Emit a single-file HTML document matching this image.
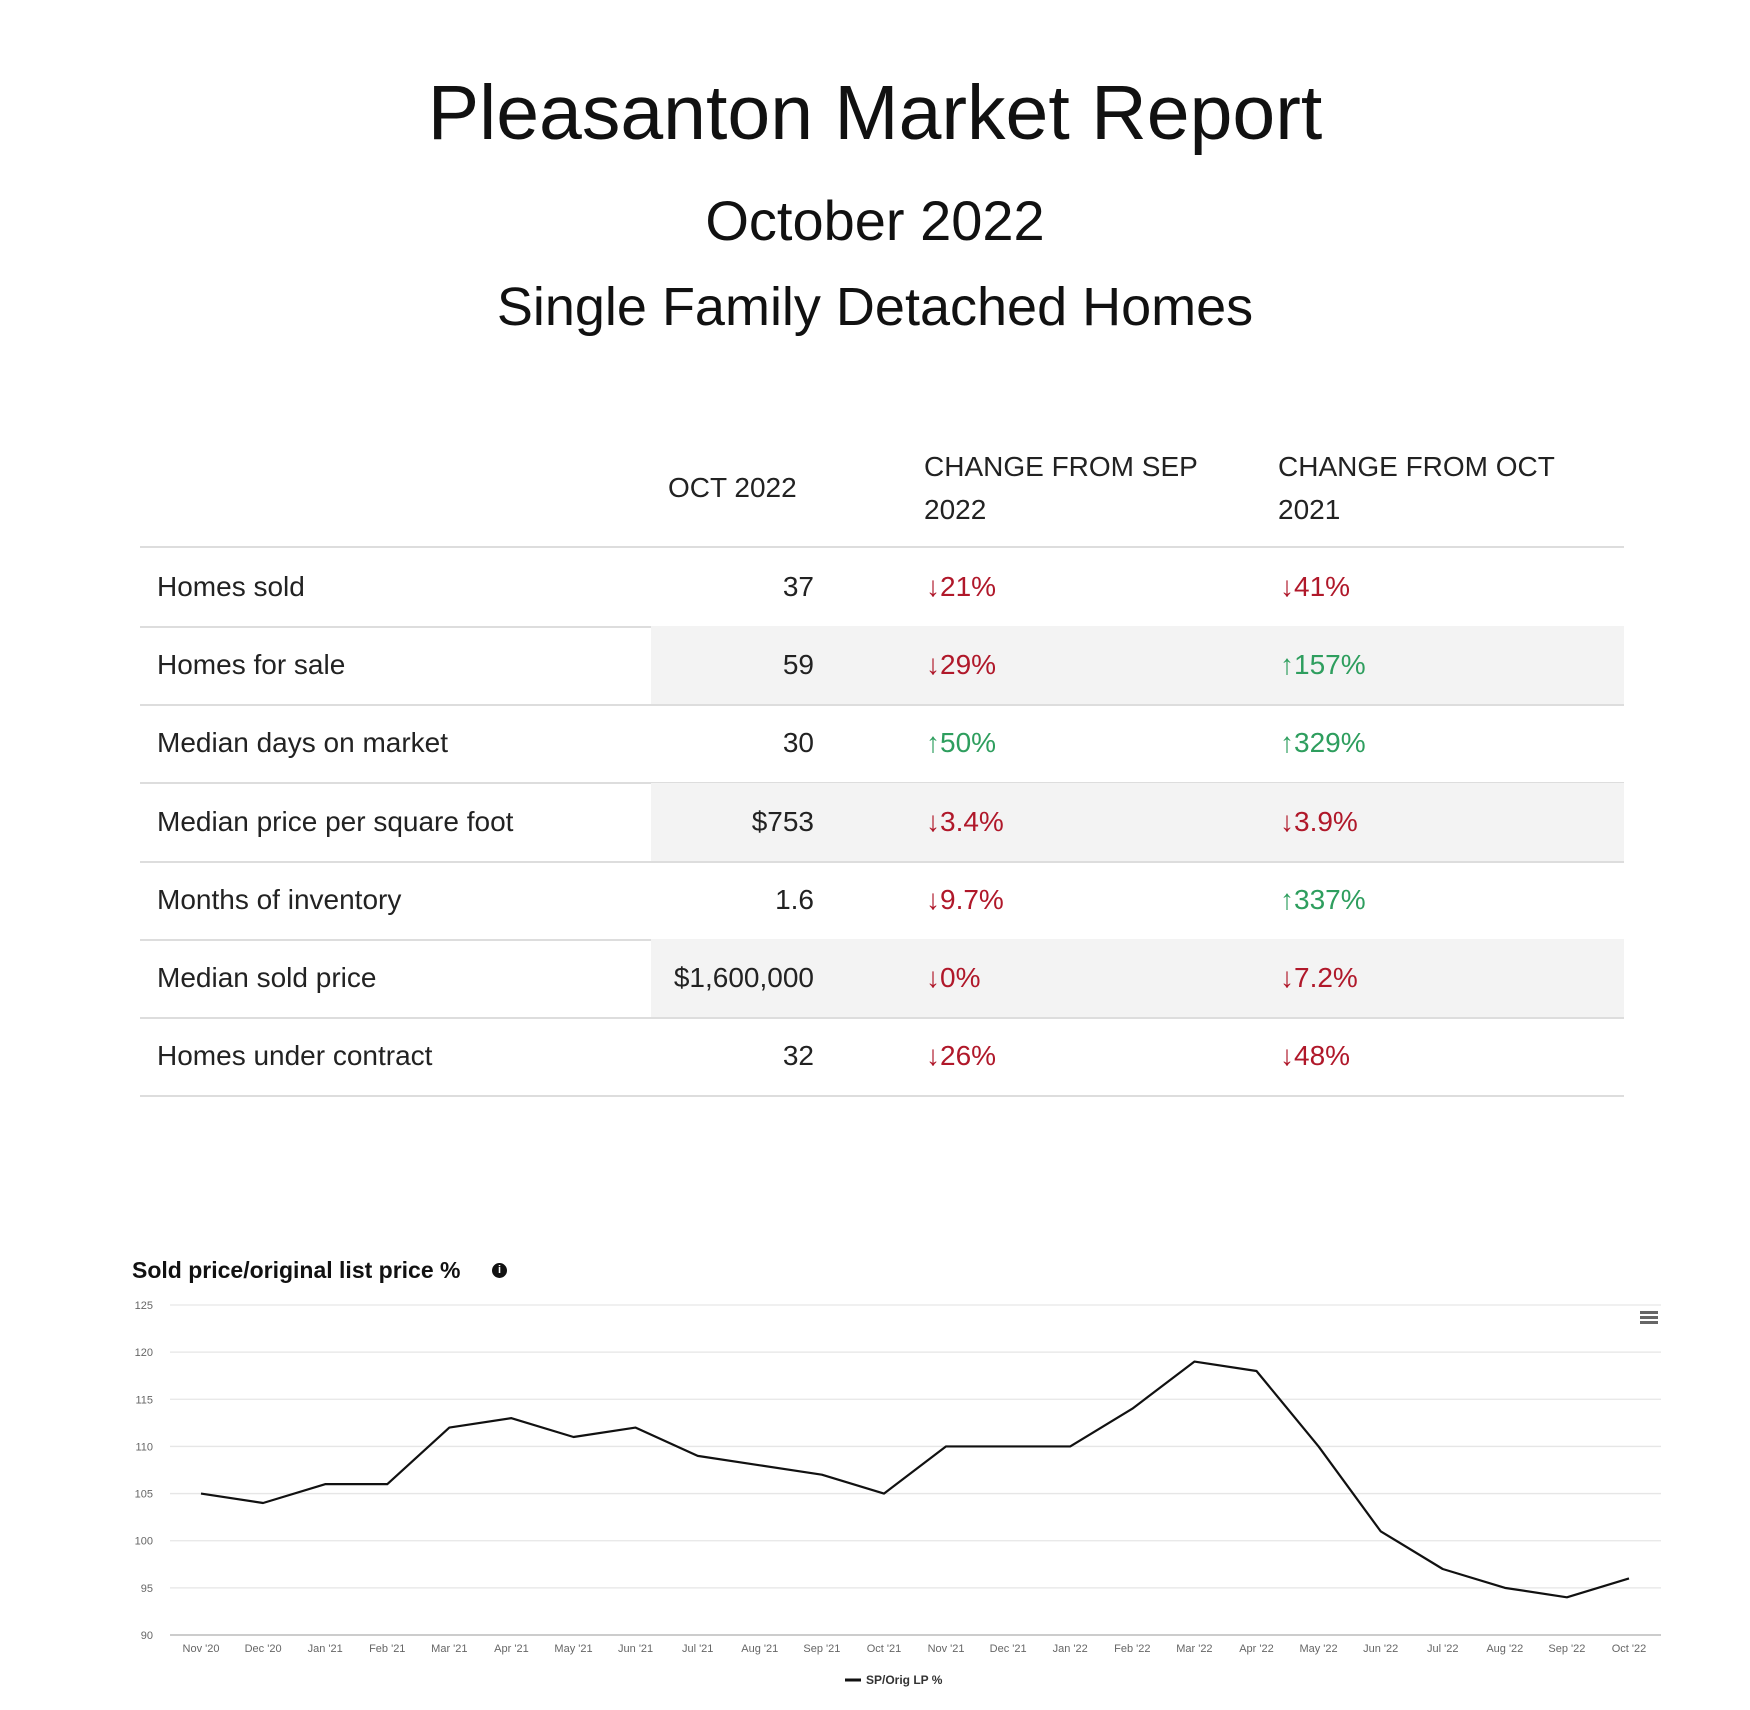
<!DOCTYPE html>
<html><head><meta charset="utf-8"><style>
body{margin:0;width:1750px;height:1710px;background:#fff;position:relative;font-family:"Liberation Sans",sans-serif;overflow:hidden}
.t{position:absolute;left:0;width:1750px;text-align:center;color:#111;white-space:nowrap}
.hd{position:absolute;font-size:28px;color:#222;line-height:43px}
.row{position:absolute;left:140px;width:1484px;height:78px;border-bottom:2px solid #ddd;font-size:28px;color:#222}
.row .sh{position:absolute;left:511px;right:0;top:0;bottom:0;background:#f3f3f3}
.row span{position:absolute;top:0;line-height:78px}
.lab{left:17px}.val{right:810px;text-align:right}.c1{left:786px}.c2{left:1140px}
.dn{color:#b0182a}.up{color:#2e9e5e}
</style></head><body>
<div class="t" style="top:63px;font-size:77px;line-height:100px">Pleasanton Market Report</div>
<div class="t" style="top:188px;font-size:56px;line-height:66px">October 2022</div>
<div class="t" style="top:274px;font-size:54px;line-height:66px">Single Family Detached Homes</div>
<div class="hd" style="left:668px;top:466px">OCT 2022</div>
<div class="hd" style="left:924px;top:445px">CHANGE FROM SEP<br>2022</div>
<div class="hd" style="left:1278px;top:445px">CHANGE FROM OCT<br>2021</div>
<div style="position:absolute;left:140px;width:1484px;top:546px;height:2px;background:#ddd"></div>
<div id="rows"></div>
<script>
const rowsData=[["Homes sold","37","d","21%","d","41%"],["Homes for sale","59","d","29%","u","157%"],["Median days on market","30","u","50%","u","329%"],["Median price per square foot","$753","d","3.4%","d","3.9%"],["Months of inventory","1.6","d","9.7%","u","337%"],["Median sold price","$1,600,000","d","0%","d","7.2%"],["Homes under contract","32","d","26%","d","48%"]];
const R=document.getElementById('rows');
rowsData.forEach((r,i)=>{const d=document.createElement('div');d.className='row';d.style.top=(548+i*78.2)+'px';


const ar=c=>c=='d'?'<span style="position:static">&#8595;</span>':'<span style="position:static">&#8593;</span>';
d.innerHTML=(i%2?'<div class="sh"></div>':'')+'<span class="lab">'+r[0]+'</span><span class="val">'+r[1]+'</span><span class="c1 '+(r[2]=='d'?'dn':'up')+'">'+ar(r[2])+r[3]+'</span><span class="c2 '+(r[4]=='d'?'dn':'up')+'">'+ar(r[4])+r[5]+'</span>';
R.appendChild(d);});
</script>
<div style="position:absolute;left:132px;top:1257px;font-size:23px;font-weight:bold;color:#111">Sold price/original list price %</div>
<div style="position:absolute;left:492px;top:1263px;width:15px;height:15px;border-radius:50%;background:#111;color:#fff;font-size:11px;font-weight:bold;text-align:center;line-height:15px">i</div>
<div style="position:absolute;left:1640px;top:1311px;width:18px;height:13px;background:repeating-linear-gradient(#666 0 3px,transparent 3px 5px)"></div>
<svg id="ch" width="1750" height="1710" style="position:absolute;left:0;top:0"></svg>
<script>
const categories=["Nov '20","Dec '20","Jan '21","Feb '21","Mar '21","Apr '21","May '21","Jun '21","Jul '21","Aug '21","Sep '21","Oct '21","Nov '21","Dec '21","Jan '22","Feb '22","Mar '22","Apr '22","May '22","Jun '22","Jul '22","Aug '22","Sep '22","Oct '22"];
const values=[105,104,106,106,112,113,111,112,109,108,107,105,110,110,110,114,119,118,110,101,97,95,94,96];
const yTicks=[90,95,100,105,110,115,120,125];
const NS='http://www.w3.org/2000/svg',svg=document.getElementById('ch');
const X=i=>201+i*(1629-201)/(categories.length-1);
const Y=v=>1635-(v-90)*(1635-1305)/35;
function mk(t,a){const e=document.createElementNS(NS,t);for(const k in a)e.setAttribute(k,a[k]);svg.appendChild(e);return e;}
yTicks.forEach(v=>{const l=mk('line',{x1:170,x2:1661,y1:Y(v),y2:Y(v),stroke:v==90?'#ccc':'#e6e6e6','stroke-width':v==90?2:1.3});


const t=mk('text',{x:153,y:Y(v)+4,'text-anchor':'end','font-size':11,fill:'#666','font-family':'Liberation Sans'});t.textContent=v;

});
categories.forEach((c,i)=>{const t=mk('text',{x:X(i),y:1652,'text-anchor':'middle','font-size':11,fill:'#666','font-family':'Liberation Sans'});t.textContent=c;

});
const p=mk('polyline',{points:values.map((v,i)=>X(i)+','+Y(v)).join(' '),fill:'none',stroke:'#111','stroke-width':2.2,'stroke-linejoin':'round'});


const lg=mk('line',{x1:845,x2:861,y1:1680,y2:1680,stroke:'#111','stroke-width':3});


const lt=mk('text',{x:866,y:1684,'font-size':12,'font-weight':'bold',fill:'#333','font-family':'Liberation Sans'});lt.textContent='SP/Orig LP %';


</script>
</body></html>
